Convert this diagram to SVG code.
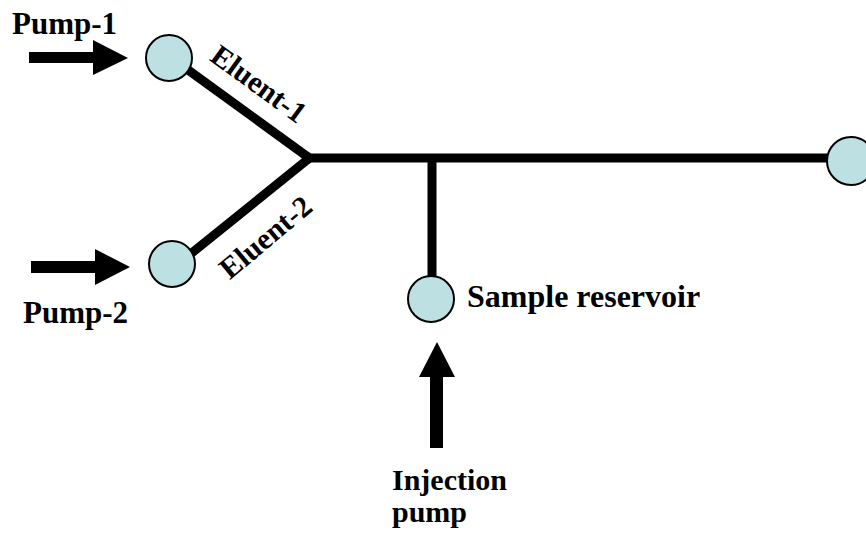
<svg xmlns="http://www.w3.org/2000/svg" width="866" height="536" viewBox="0 0 866 536">
  <style>
    .lbl { font-family: "Liberation Serif", "Times New Roman", serif; font-weight: bold; fill: #000; }
    .tube { stroke: #000; stroke-width: 9; fill: none; stroke-linecap: butt; }
    .res { fill: #bde0e3; stroke: #000; stroke-width: 2; }
    .blk { fill: #000; stroke: none; }
  </style>
  <rect width="866" height="536" fill="#fff"/>
  <g id="connectors">
    <line class="tube" x1="184" y1="67" x2="312" y2="160"/>
    <line class="tube" x1="188" y1="256" x2="312" y2="156"/>
    <line class="tube" x1="308" y1="158" x2="830" y2="158"/>
    <line class="tube" x1="432" y1="158" x2="432" y2="278"/>
    <polygon class="blk" points="29,52 93,52 93,40 128,58 93,75 93,63 29,63"/>
    <polygon class="blk" points="31,261 95,261 95,249 130,267 95,285 95,273 31,273"/>
    <polygon class="blk" points="430,448 430,377 419,377 437,342 455,377 443,377 443,448"/>
  </g>
  <g id="pump1">
    <text class="lbl" x="12" y="34" font-size="31">Pump-1</text>
    <circle class="res" cx="169" cy="58" r="23"/>
  </g>
  <g id="pump2">
    <text class="lbl" x="23" y="323" font-size="31">Pump-2</text>
    <circle class="res" cx="172" cy="264" r="23"/>
  </g>
  <g id="eluent1">
    <text class="lbl" x="0" y="0" text-anchor="middle" font-size="30" transform="translate(253,92) rotate(36)">Eluent-1</text>
  </g>
  <g id="eluent2">
    <text class="lbl" x="0" y="0" text-anchor="middle" font-size="30" transform="translate(272,245) rotate(-40)">Eluent-2</text>
  </g>
  <g id="sample-reservoir">
    <circle class="res" cx="431" cy="299" r="23"/>
    <text class="lbl" x="467" y="307" font-size="32">Sample reservoir</text>
  </g>
  <g id="outlet">
    <circle class="res" cx="851" cy="161" r="24"/>
  </g>
  <g id="injection-pump">
    <text class="lbl" x="392" y="490" font-size="30">Injection</text>
    <text class="lbl" x="392" y="522" font-size="30">pump</text>
  </g>
</svg>
